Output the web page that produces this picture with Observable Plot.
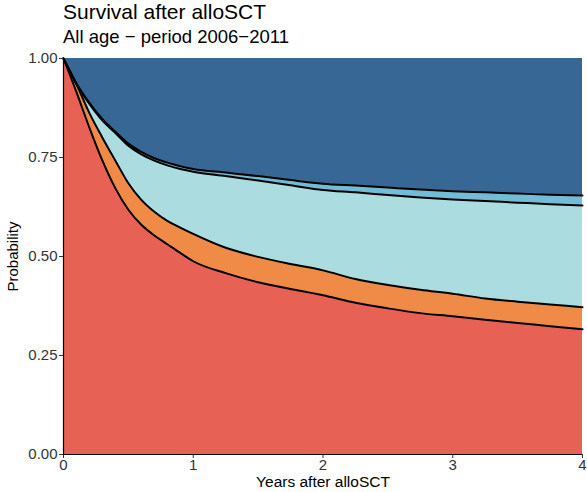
<!DOCTYPE html>
<html>
<head>
<meta charset="utf-8">
<script src="https://cdn.jsdelivr.net/npm/d3@7"></script>
<script src="https://cdn.jsdelivr.net/npm/@observablehq/plot@0.6"></script>
<style>
  body { margin: 0; background: #fff; }
  #wrap { position: relative; width: 587px; height: 492px; font-family: "Liberation Sans", Arial, sans-serif; }
  #title { position: absolute; left: 63px; top: 1px; font-size: 21px; line-height: 21px; color: #000; white-space: nowrap; }
  #subtitle { position: absolute; left: 63px; top: 28px; font-size: 18.5px; line-height: 18.5px; color: #000; white-space: nowrap; }
  #chart { position: absolute; left: 0; top: 50px; }
</style>
</head>
<body>
<div id="wrap">
  <div id="title">Survival after alloSCT</div>
  <div id="subtitle">All age − period 2006−2011</div>
  <div id="chart"></div>
</div>
<script>
// Years after alloSCT
const years = [0, 0.1, 0.2, 0.3, 0.4, 0.5, 0.6, 0.7, 0.8, 0.9, 1.0, 1.25, 1.5, 1.75, 2.0, 2.25, 2.5, 2.75, 3.0, 3.25, 3.5, 3.75, 4.0];
// cumulative upper boundaries of each stacked state (bottom to top)
const redTop    = [1, 0.915, 0.825, 0.742, 0.672, 0.618, 0.58, 0.553, 0.531, 0.509, 0.488, 0.458, 0.435, 0.418, 0.402, 0.383, 0.369, 0.357, 0.349, 0.340, 0.332, 0.324, 0.316];
const orangeTop = [1, 0.935, 0.862, 0.8, 0.742, 0.685, 0.643, 0.613, 0.59, 0.573, 0.557, 0.522, 0.499, 0.481, 0.465, 0.443, 0.428, 0.416, 0.406, 0.394, 0.386, 0.379, 0.372];
const tealTop   = [1, 0.935, 0.885, 0.843, 0.812, 0.78, 0.758, 0.742, 0.73, 0.721, 0.714, 0.703, 0.692, 0.68, 0.668, 0.662, 0.655, 0.649, 0.644, 0.64, 0.636, 0.632, 0.629];
const blueTop   = [1, 0.937, 0.888, 0.847, 0.815, 0.785, 0.764, 0.748, 0.737, 0.728, 0.721, 0.712, 0.703, 0.693, 0.684, 0.679, 0.674, 0.669, 0.665, 0.662, 0.659, 0.656, 0.654];
const totalTop  = years.map(() => 1);
const xTicks = [0, 1, 2, 3, 4];
const yTicks = [0, 0.25, 0.5, 0.75, 1];
const colors = ["#e76254", "#ef8a47", "#aadce0", "#72bcd5", "#376795"];

const data = years.map((t, i) => ({
  t, zero: 0, red: redTop[i], orange: orangeTop[i], teal: tealTop[i], blue: blueTop[i], total: totalTop[i]
}));
const layers = [["zero", "red"], ["red", "orange"], ["orange", "teal"], ["teal", "blue"], ["blue", "total"]];

const plot = Plot.plot({
  width: 587,
  height: 442,
  marginTop: 8,
  marginBottom: 38,
  marginLeft: 63,
  marginRight: 5,
  style: { fontFamily: "Liberation Sans, Arial, sans-serif", fontSize: "15px", color: "#333", background: "white" },
  x: { domain: [0, 4], label: null },
  y: { domain: [0, 1], label: null },
  marks: [
    ...layers.map(([lo, hi], k) => Plot.areaY(data, { x: "t", y1: lo, y2: hi, fill: colors[k], curve: "monotone-x" })),
    ...["red", "orange", "teal", "blue"].map(key =>
      Plot.lineY(data, { x: "t", y: key, stroke: "black", strokeWidth: 2, curve: "monotone-x" })),
    Plot.axisX({ ticks: xTicks, tickSize: 4, tickPadding: 1, tickFormat: d => String(d), fontSize: 15, label: null }),
    Plot.axisY({ ticks: yTicks, tickSize: 4, tickPadding: 2, tickFormat: d3.format(".2f"), fontSize: 15, label: null }),
    Plot.ruleX([0], { stroke: "black", strokeWidth: 1.2 }),
    Plot.ruleY([0], { stroke: "black", strokeWidth: 1.2 }),
    Plot.text(["Years after alloSCT"], { text: d => d, frameAnchor: "bottom", dy: 28, fontSize: 15.5, fill: "black", lineAnchor: "middle" }),
    Plot.text(["Probability"], { text: d => d, frameAnchor: "left", dx: -50, rotate: -90, textAnchor: "middle", lineAnchor: "middle", fontSize: 15, fill: "black" })
  ]
});
document.getElementById("chart").appendChild(plot);
</script>
</body>
</html>
